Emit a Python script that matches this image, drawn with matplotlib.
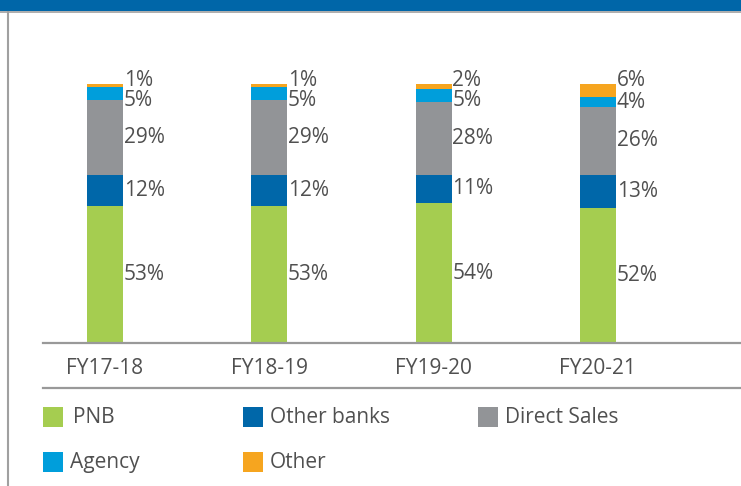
import matplotlib
matplotlib.use("Agg")
import matplotlib.pyplot as plt
from matplotlib.patches import Rectangle
from matplotlib.lines import Line2D
import numpy as np

plt.rcParams['font.family'] = ['Open Sans', 'DejaVu Sans']

years = ["FY17-18", "FY18-19", "FY19-20", "FY20-21"]
series = ["PNB", "Other banks", "Direct Sales", "Agency", "Other"]
pnb = [53, 53, 54, 52]
other_banks = [12, 12, 11, 13]
direct_sales = [29, 29, 28, 26]
agency = [5, 5, 5, 4]
other = [1, 1, 2, 6]
colors = ["#a5cd50", "#0067a9", "#929497", "#009edb", "#f6a51f"]

values = [pnb, other_banks, direct_sales, agency, other]
TXT = "#505050"
W, H = 741, 486

fig = plt.figure(figsize=(W / 100, H / 100), dpi=100)
fig.patch.set_facecolor("white")

# header band and frame
fig.add_artist(Rectangle((0, 1 - 11 / H), 1, 11 / H, transform=fig.transFigure,
                         facecolor="#0066a8", edgecolor="none"))
fig.add_artist(Line2D([0, 1], [1 - 12.5 / H] * 2, transform=fig.transFigure,
                      color="#a0a0a0", lw=1.2))
fig.add_artist(Line2D([7.5 / W] * 2, [0, 1 - 12 / H], transform=fig.transFigure,
                      color="#a0a0a0", lw=1.5))

ax = fig.add_axes([43 / W, 1 - 343 / H, 1 - 43 / W, (343 - 84) / H])
x = np.arange(len(years))
bw = 36 / 164.3
bottom = np.zeros(len(years))
for vals, col in zip(values, colors):
    ax.bar(x, vals, bw, bottom=bottom, color=col, edgecolor="none", zorder=2)
    bottom += np.array(vals)

ax.set_xlim((43 - 105) / 164.3, (741 - 105) / 164.3)
ax.set_ylim(0, 100)
for s in ["top", "right", "left"]:
    ax.spines[s].set_visible(False)
ax.spines["bottom"].set_color("#999999")
ax.spines["bottom"].set_linewidth(1.6)
ax.spines["bottom"].set_zorder(3)
ax.set_yticks([])
ax.set_xticks(x)
ax.set_xticklabels(years, fontsize=15, color=TXT)
ax.tick_params(axis="x", length=0, pad=11)

# value labels
for i in range(len(years)):
    cum = np.cumsum([v[i] for v in values])
    starts = cum - np.array([v[i] for v in values])
    centers = (starts + cum) / 2
    ys = [None] * len(values)
    ys[-1] = 101.2
    for k in range(len(values) - 2, -1, -1):
        ys[k] = min(centers[k], ys[k + 1] - 7.4)
    for k in range(len(values)):
        ax.text(x[i] + bw / 2 + 0.005, ys[k], f"{values[k][i]}%", fontsize=15,
                color=TXT, va="center", ha="left", clip_on=False)

# second separator line
fig.add_artist(Line2D([43 / W, 1], [1 - 388 / H] * 2, transform=fig.transFigure,
                      color="#999999", lw=1.6))

# legend
leg_pos = [(43, 417), (243, 417), (478, 417), (43, 462), (243, 462)]
for (px, py), name, col in zip(leg_pos, series, colors):
    fig.add_artist(Rectangle((px / W, 1 - (py + 10) / H), 20 / W, 20 / H,
                             transform=fig.transFigure, facecolor=col, edgecolor="none"))
    gap = 10 if name == "PNB" else 7
    fig.text((px + 20 + gap) / W, 1 - py / H, name, fontsize=15, color=TXT,
             va="center", ha="left")

fig.savefig("out.png", dpi=100, facecolor="white")
